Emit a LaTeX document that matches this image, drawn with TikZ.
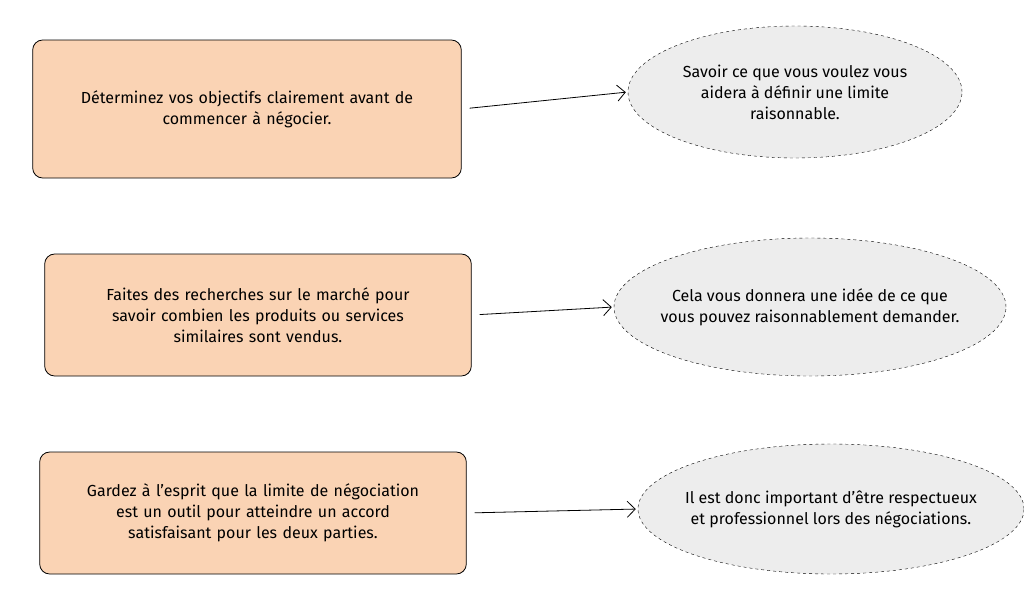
\documentclass[tikz,border=0pt]{standalone}
\usepackage{fontspec}
\setmainfont{Fira Sans}
\usetikzlibrary{arrows.meta,shapes.geometric}
\definecolor{boxfill}{HTML}{FAD3B4}
\definecolor{ellfill}{HTML}{EDEDED}
\begin{document}
\begin{tikzpicture}[
        x=1pt, y=-1pt,
        font=\fontsize{16}{21}\selectfont,
        box/.style={draw, thick, rounded corners=10pt, fill=boxfill, align=center, text width=420pt, minimum height=122pt},
        idea/.style={draw, dashed, ellipse, fill=ellfill, align=center, inner xsep=-55pt, inner ysep=-8pt},
        arrow/.style={-{Straight Barb[length=8pt]}, thick, shorten <=8pt, shorten >=2pt}
        ]
        \useasboundingbox (0,0) rectangle (1024,608);

        % Left column
        \node[box, minimum height=138pt, text width=422pt] (goal)   at (247,109) {Déterminez vos objectifs clairement avant de\\commencer à négocier.};
        \node[box] (market) at (258,315) {Faites des recherches sur le marché pour\\savoir combien les produits ou services\\similaires sont vendus.};
        \node[box] (limit)  at (253,513) {Gardez à l'esprit que la limite de négociation\\est un outil pour atteindre un accord\\satisfaisant pour les deux parties.};

        % Right column
        \node[idea, minimum width=334pt, minimum height=132pt] (know)    at (795,92)  {Savoir ce que vous voulez vous\\aidera à définir une limite\\raisonnable.};
        \node[idea, minimum width=392pt, minimum height=138pt] (idea)    at (810,307) {Cela vous donnera une idée de ce que\\vous pouvez raisonnablement demander.};
        \node[idea, minimum width=386pt, minimum height=130pt] (respect) at (831,509) {Il est donc important d'être respectueux\\et professionnel lors des négociations.};

        % Arrows
        \draw[arrow] (goal.east) -- (know.west);
        \draw[arrow] (market.east) -- (idea.west);
        \draw[arrow] (limit.east) -- (respect.west);
\end{tikzpicture}
\end{document}
